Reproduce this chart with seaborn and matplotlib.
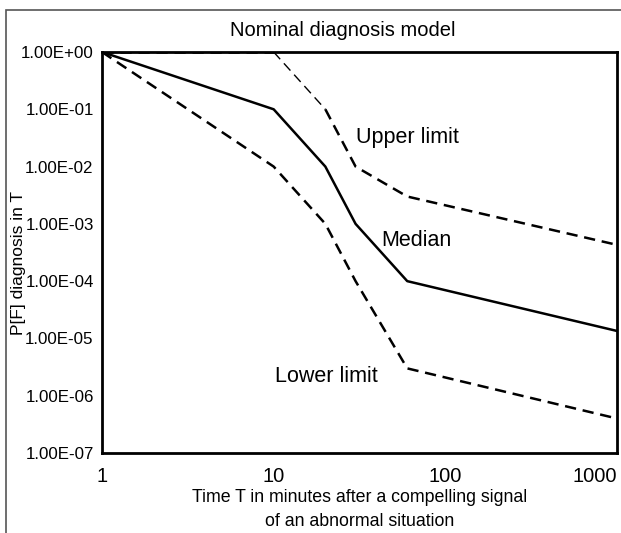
import numpy as np
import pandas as pd
import matplotlib
matplotlib.use("Agg")
import matplotlib.pyplot as plt
import seaborn as sns
from matplotlib.patches import Rectangle
from matplotlib.ticker import FixedLocator, NullLocator

# Nominal diagnosis model (time vs probability of failure to diagnose)
time_min = [1, 10, 20, 30, 60, 1000]
median = [1.0, 1e-1, 1e-2, 1e-3, 1e-4, 1.35e-5]
upper = [1.0, 1.0, 1e-1, 1e-2, 3e-3, 4.3e-4]
lower = [1.0, 1e-2, 1e-3, 1e-4, 3e-6, 4e-7]

x_ticks = [1, 10, 100, 1000]
x_ticklabels = ["1", "10", "100", "1000"]
y_ticks = [1e0, 1e-1, 1e-2, 1e-3, 1e-4, 1e-5, 1e-6, 1e-7]
y_ticklabels = ["1.00E+00", "1.00E-01", "1.00E-02", "1.00E-03",
                "1.00E-04", "1.00E-05", "1.00E-06", "1.00E-07"]

sns.set_style("white")
plt.rcParams["font.family"] = ["Liberation Sans", "DejaVu Sans"]
plt.rcParams["text.color"] = "black"
plt.rcParams["axes.labelcolor"] = "black"

fig = plt.figure(figsize=(6.21, 5.33), dpi=100)
ax = fig.add_axes([102 / 621, 1 - 453 / 533, (617 - 102) / 621, (453 - 52) / 533])

df_med = pd.DataFrame({"T": time_min, "P": median})
df_up = pd.DataFrame({"T": time_min, "P": upper})
df_lo = pd.DataFrame({"T": time_min, "P": lower})

dash = (0, (4.5, 2.7))
lw = 1.8
sns.lineplot(data=df_med, x="T", y="P", ax=ax, color="black", lw=lw,
             estimator=None, sort=False)
sns.lineplot(data=df_lo, x="T", y="P", ax=ax, color="black", lw=lw,
             linestyle=dash, estimator=None, sort=False)
# upper limit: the 10-20 min piece is drawn thinner in the original
sns.lineplot(data=df_up.iloc[0:2], x="T", y="P", ax=ax, color="black", lw=lw,
             linestyle=dash, estimator=None, sort=False)
sns.lineplot(data=df_up.iloc[1:3], x="T", y="P", ax=ax, color="black", lw=1.0,
             linestyle=(0, (7, 4)), estimator=None, sort=False)
sns.lineplot(data=df_up.iloc[2:], x="T", y="P", ax=ax, color="black", lw=lw,
             linestyle=dash, estimator=None, sort=False)

ax.set_xscale("log")
ax.set_yscale("log")
ax.set_xlim(1, 1000)
ax.set_ylim(1e-7, 1)
ax.xaxis.set_major_locator(FixedLocator(x_ticks))
ax.xaxis.set_minor_locator(NullLocator())
ax.yaxis.set_major_locator(FixedLocator(y_ticks))
ax.yaxis.set_minor_locator(NullLocator())
ax.set_xticklabels(x_ticklabels, fontsize=14.5)
ax.set_yticklabels(y_ticklabels, fontsize=12.2)
ax.tick_params(axis="both", direction="out", length=4, width=1.5,
               color="black", pad=2, labelcolor="black")
ax.tick_params(axis="x", pad=6)
last = ax.get_xticklabels()[-1]
last.set_horizontalalignment("right")
last.set_x(1000)

for s in ax.spines.values():
    s.set_color("black")
    s.set_linewidth(2)

ax.set_xlabel("")
ax.set_ylabel("")

fig.text(343 / 621, 1 - 30 / 533, "Nominal diagnosis model",
         ha="center", va="center", fontsize=14.5, color="black")
ax.text(60, 3.2e-2, "Upper limit", ha="center", va="center", fontsize=15.5, color="black")
ax.text(68, 5.2e-4, "Median", ha="center", va="center", fontsize=15.5, color="black")
ax.text(20.4, 2.2e-6, "Lower limit", ha="center", va="center", fontsize=15.5, color="black")

fig.text(360 / 621, 1 - 498 / 533, "Time T in minutes after a compelling signal",
         ha="center", va="center", fontsize=12.8, color="black")
fig.text(360 / 621, 1 - 522 / 533, "of an abnormal situation",
         ha="center", va="center", fontsize=12.8, color="black")
fig.text(19 / 621, 1 - 263 / 533, "P[F] diagnosis in T", rotation=90,
         ha="center", va="center", fontsize=12.5, color="black")

# thin gray frame around the figure
fig.patches.append(Rectangle((6 / 621, -0.05), 1.2, 1 - 10 / 533 + 0.05,
                             transform=fig.transFigure, fill=False,
                             edgecolor="#555555", lw=1.2))

fig.savefig("out.png", dpi=100)
